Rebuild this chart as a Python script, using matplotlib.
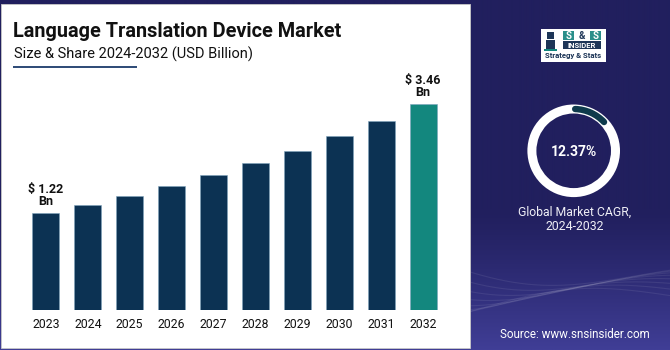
import matplotlib
matplotlib.use("Agg")
import matplotlib.pyplot as plt
import numpy as np
from matplotlib.patches import Rectangle, Wedge, Arc

# ---------------- data ----------------
years = ["2023", "2024", "2025", "2026", "2027", "2028", "2029", "2030", "2031", "2032"]
values = [1.22, 1.39, 1.58, 1.79, 2.00, 2.25, 2.51, 2.80, 3.12, 3.46]
labeled_years = ["2023", "2032"]
cagr = 12.37
title = "Language Translation Device Market"
subtitle = "Size & Share 2024-2032 (USD Billion)"
cagr_label = "Global Market CAGR,\n2024-2032"
source = "Source: www.snsinsider.com"

# ---------------- style ----------------
W, H = 670, 350
BAR = "#0c3253"
TEAL = "#13877e"
FONT = ["Roboto", "DejaVu Sans"]
plt.rcParams["font.family"] = FONT

fig = plt.figure(figsize=(W / 100, H / 100), dpi=100)

# background axes in pixel coordinates
bg = fig.add_axes([0, 0, 1, 1], zorder=0)
bg.set_xlim(0, W)
bg.set_ylim(H, 0)
bg.axis("off")

# vertical gradient background
yy = np.linspace(0, 1, H)[:, None]
top = np.array([0x21, 0x1f, 0x5e]) / 255
bot = np.array([0x40, 0x3e, 0x96]) / 255
t = np.clip((yy - 0.6) / 0.4, 0, 1) ** 1.2
grad = top[None, None, :] * (1 - t[..., None]) + bot[None, None, :] * t[..., None]
grad = np.repeat(grad, 4, axis=1)
bg.imshow(grad, extent=(0, W, H, 0), aspect="auto", zorder=0, interpolation="bilinear")

# faint waves bottom right
xs = np.linspace(470, W, 200)
for k in range(8):
    ys = 272 + k * 4 + 18 * np.sin((xs - 470) / 60 + k * 0.35) * np.exp(-(xs - 470) / 300)
    bg.plot(xs, ys, color="white", alpha=0.08, lw=0.8, zorder=1)

# white panel
bg.add_patch(Rectangle((1, 4), 469, 344, facecolor="white", edgecolor="#c8c8c8",
                       lw=0.6, zorder=2))

# title texts
bg.text(13, 37, title, fontsize=14.3, fontweight="bold", color="#111111",
        va="baseline", ha="left", zorder=3)
bg.text(14, 59, subtitle, fontsize=10.5, color="#111111", va="baseline", ha="left", zorder=3)
bg.plot([13, 137], [66.7, 66.7], color="#1b3a6b", lw=1.3, zorder=3, solid_capstyle="butt")

# ---------------- bar chart ----------------
base = -0.77
ax = fig.add_axes([25 / W, 40 / H, 419 / W, 230 / H], zorder=2)
ax.set_facecolor("none")
x = np.arange(len(years))
colors = [TEAL if y == years[-1] else BAR for y in years]
ax.bar(x, [v - base for v in values], bottom=base, width=0.645, color=colors,
       edgecolor="#7fa3bd", linewidth=0.4)
ax.set_xlim(-0.5, len(years) - 0.5)
ax.set_ylim(base, 3.96)
for i, (yr, v) in enumerate(zip(years, values)):
    if yr in labeled_years:
        ax.annotate(f"$ {v:.2f}\nBn", (i, v), xytext=(0, 3.5), textcoords="offset points",
                    ha="center", va="bottom", fontsize=9, fontweight="bold",
                    color="#111111", linespacing=0.95)
ax.set_xticks(x, years)
ax.tick_params(axis="x", length=0, pad=6, labelsize=8.8, labelcolor="#111111")
ax.set_yticks([])
for s in ax.spines.values():
    s.set_visible(False)

# ---------------- right panel ----------------
# logo
bg.add_patch(Rectangle((541, 29), 65, 33, facecolor="white", edgecolor="none", zorder=3))
bg.add_patch(Rectangle((546, 40), 9, 10, facecolor="#1d3557", zorder=4))
bg.add_patch(Rectangle((547, 32), 7, 7, facecolor="#1d3557", zorder=4))
bg.add_patch(Rectangle((544, 49), 13, 2, facecolor=TEAL, zorder=4))
bg.add_patch(Rectangle((563, 31), 11, 9, facecolor="#2a8f8a", zorder=4))
bg.add_patch(Rectangle((590, 31), 11, 9, facecolor="#2a8f8a", zorder=4))
bg.text(568.5, 35.8, "S", color="white", fontsize=7, fontweight="bold", ha="center", va="center", zorder=5)
bg.text(582, 35.8, "&", color="#1d3557", fontsize=7, fontweight="bold", ha="center", va="center", zorder=5)
bg.text(595.5, 35.8, "S", color="white", fontsize=7, fontweight="bold", ha="center", va="center", zorder=5)
bg.add_patch(Rectangle((563, 41), 38, 8, facecolor="#1d3557", zorder=4))
bg.text(582, 45.2, "INSIDER", color="white", fontsize=5.5, fontweight="bold", ha="center", va="center", zorder=5)
bg.text(573, 55.5, "Strategy & Stats", color="#1d3557", fontsize=5.6, fontweight="bold",
        ha="center", va="center", zorder=5)

# donut
cx, cy, R, ring = 573.7, 150.8, 46.3, 9.0
bg.add_patch(Wedge((cx, cy), R, 0, 360, width=ring, facecolor="white", edgecolor="none", zorder=3))
span = cagr / 100 * 360
start_vis, end_vis = 88 - span, 88
# y axis is inverted in bg, so visual angles are mirrored
arc = Arc((cx, cy), 2 * (R - ring / 2), 2 * (R - ring / 2), theta1=-end_vis, theta2=-start_vis,
          color="#0e3a4c", lw=4.6, zorder=4)
arc.set_capstyle("round")
bg.add_patch(arc)
bg.text(cx, cy + 1, f"{cagr:.2f}%", color="white", fontsize=10, fontweight="bold",
        ha="center", va="center", zorder=4)
bg.text(575, 219.5, cagr_label, color="#eeeef5", fontsize=8.8, ha="center", va="center",
        linespacing=1.1, zorder=4)
bg.text(575, 334, source, color="white", fontsize=8.4, ha="center", va="center", zorder=4)

fig.savefig("out.png", dpi=100)
